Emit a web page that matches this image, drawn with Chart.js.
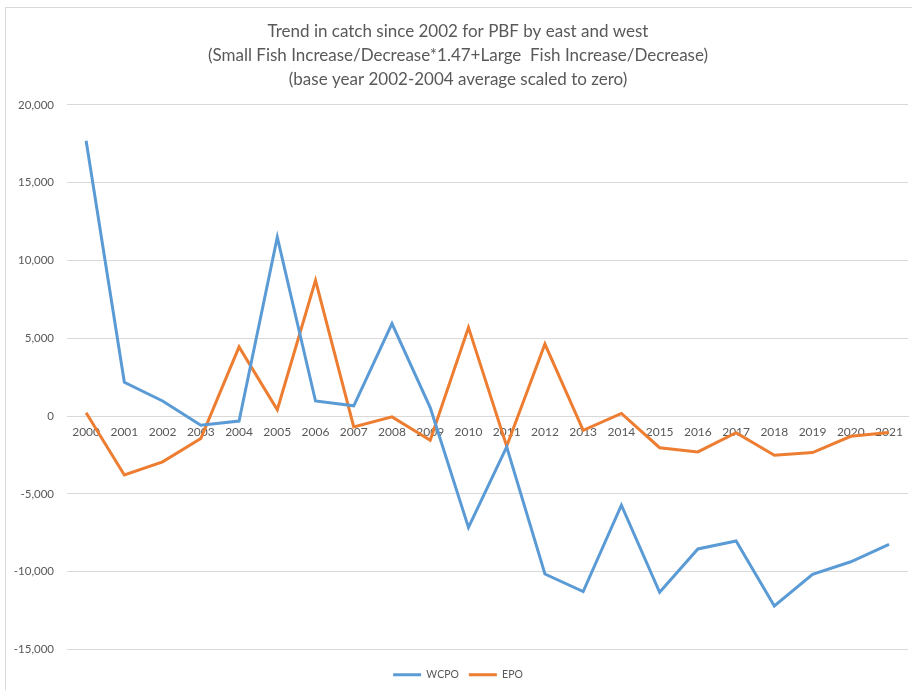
<!DOCTYPE html>
<html>
<head>
<meta charset="utf-8">
<script src="https://cdn.jsdelivr.net/npm/chart.js@4"></script>
<style>
  body { margin: 0; background: #fff; }
  #frame { position: absolute; left: 5px; top: 7px; width: 920px; height: 700px; border-left: 1px solid #d9d9d9; border-top: 1px solid #d9d9d9; }
  #wrap { position: absolute; left: 0; top: 0; width: 912px; height: 690px; }
</style>
</head>
<body>
<div id="frame"></div>
<div id="wrap"><canvas id="chart"></canvas></div>
<script>
const years = ['2000', '2001', '2002', '2003', '2004', '2005', '2006', '2007', '2008', '2009', '2010',
  '2011', '2012', '2013', '2014', '2015', '2016', '2017', '2018', '2019', '2020', '2021'];
const wcpo = [17700, 2170, 970, -590, -320, 11500, 970, 660, 5950, 550, -7160,
  -1980, -10150, -11280, -5720, -11320, -8540, -8030, -12200, -10170, -9360, -8240];
const epo = [210, -3780, -2940, -1440, 4450, 410, 8730, -700, -50, -1550, 5700,
  -1940, 4630, -910, 170, -2030, -2300, -1070, -2520, -2340, -1300, -1060];
const titleLines = [
  'Trend in catch since 2002 for PBF by east and west',
  '(Small Fish Increase/Decrease*1.47+Large  Fish Increase/Decrease)',
  '(base year 2002-2004 average scaled to zero)'
];

const FONT = 'Lato, "Noto Sans", sans-serif';
const GREY = '#595959';

new Chart(document.getElementById('chart'), {
  type: 'line',
  data: {
    labels: years,
    datasets: [
      { label: 'WCPO', data: wcpo, borderColor: '#5B9BD5', backgroundColor: '#5B9BD5', borderWidth: 3, pointRadius: 0, tension: 0 },
      { label: 'EPO', data: epo, borderColor: '#ED7D31', backgroundColor: '#ED7D31', borderWidth: 3, pointRadius: 0, tension: 0 }
    ]
  },
  options: {
    responsive: true,
    maintainAspectRatio: false,
    animation: false,
    layout: { padding: { left: 6, right: 2, top: 0, bottom: 0 } },
    plugins: {
      title: {
        display: true,
        text: titleLines,
        color: GREY,
        font: { family: FONT, size: 17, weight: 'normal', lineHeight: 1.41 },
        padding: { top: 20, bottom: 13 }
      },
      legend: {
        position: 'bottom',
        // empty legend title only used as a spacer above the items
        title: { display: true, text: '', font: { size: 10, lineHeight: 1 }, padding: 0 },
        labels: {
          color: GREY,
          font: { family: FONT, size: 10.5 },
          usePointStyle: true,
          pointStyle: 'line',
          pointStyleWidth: 28,
          padding: 10
        }
      },
      tooltip: { enabled: false }
    },
    scales: {
      x: {
        position: { y: 0 },
        offset: true,
        grid: { display: false, drawTicks: false },
        border: { display: true, color: '#d9d9d9', width: 1 },
        ticks: { color: GREY, font: { family: FONT, size: 12 }, padding: 9, maxRotation: 0, autoSkip: false }
      },
      y: {
        min: -15000,
        max: 20000,
        grid: { color: '#d9d9d9', drawTicks: false },
        border: { display: false },
        ticks: {
          stepSize: 5000,
          color: GREY,
          font: { family: FONT, size: 11.5 },
          padding: 13,
          callback: v => v.toLocaleString('en-US')
        },
        afterFit: scale => { scale.width = 61; }
      }
    }
  }
});
</script>
</body>
</html>
